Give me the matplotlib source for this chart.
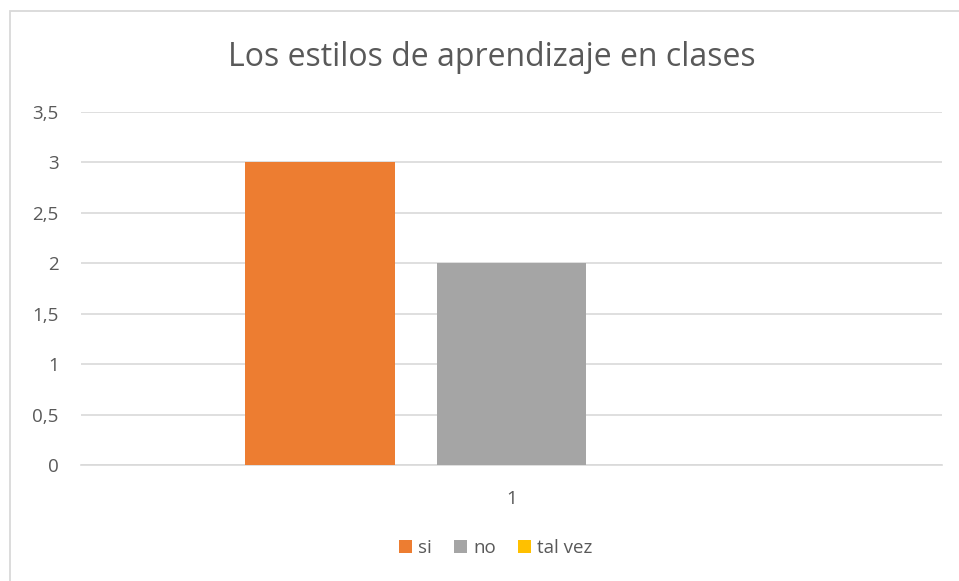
import matplotlib.pyplot as plt
from matplotlib.patches import Rectangle

series = ['si', 'no', 'tal vez']
values = [3, 2, 0]
colors = ['#ED7D31', '#A5A5A5', '#FFC000']
yticks = [0, 0.5, 1, 1.5, 2, 2.5, 3, 3.5]
ytick_labels = ['0', '0,5', '1', '1,5', '2', '2,5', '3', '3,5']
category = '1'

plt.rcParams['font.family'] = ['Open Sans', 'DejaVu Sans']

fig = plt.figure(figsize=(9.59, 5.81), dpi=100)
W, H = 959, 581

# chart border
fig.patches.append(Rectangle((10 / W, -0.01), 1.0, 1 - 11 / H + 0.01, transform=fig.transFigure,
                             fill=False, edgecolor='#D9D9D9', linewidth=1.3))

ax = fig.add_axes([81 / W, 1 - 465 / H, (942 - 81) / W, (465 - 112) / H])

offsets = [-0.222, 0.0, 0.222]
for s, v, c, o in zip(series, values, colors, offsets):
    ax.bar(o, v, width=0.174, color=c, label=s, zorder=3)

ax.set_xlim(-0.5, 0.5)
ax.set_ylim(0, 3.5)
ax.set_yticks(yticks)
ax.set_yticklabels(ytick_labels)
ax.set_xticks([0])
ax.set_xticklabels([category])
ax.grid(axis='y', color='#D9D9D9', linewidth=1.2, zorder=0)
for sp in ['top', 'right', 'left']:
    ax.spines[sp].set_visible(False)
ax.spines['bottom'].set_color('#D9D9D9')
ax.spines['bottom'].set_linewidth(1.2)
ax.tick_params(axis='both', length=0, colors='#595959', labelsize=13.5)
ax.tick_params(axis='y', pad=16)
ax.tick_params(axis='x', pad=18)

fig.text(492 / W, 1 - 58 / H, 'Los estilos de aprendizaje en clases', ha='center', va='center',
         fontsize=23, color='#595959')

ax.legend(loc='center', bbox_to_anchor=(496 / W, 1 - 548 / H), bbox_transform=fig.transFigure,
          ncol=3, frameon=False, fontsize=13.5, labelcolor='#595959', handlelength=0.65,
          handleheight=0.65, handletextpad=0.35, columnspacing=1.2)

fig.savefig('out.png', dpi=100)
